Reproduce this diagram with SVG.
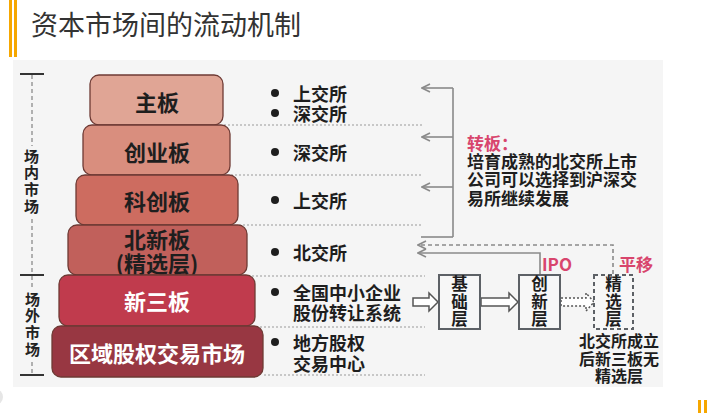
<svg xmlns="http://www.w3.org/2000/svg" width="720" height="413" viewBox="0 0 720 413">
<defs>
<style>
text{font-family:"Noto Sans CJK SC","Noto Sans",sans-serif;}
.title{font-size:27px;fill:#333;font-weight:400;}
.blk{stroke:#6e3a34;stroke-width:1.3;}
.bt{font-size:22px;font-weight:700;fill:#1e1e1e;text-anchor:middle;dominant-baseline:central;}
.bw{fill:#fff;}
.side{font-size:15px;font-weight:700;fill:#222;text-anchor:middle;writing-mode:vertical-rl;letter-spacing:1.7px;}
.bl{font-size:18px;font-weight:700;fill:#1e1e1e;dominant-baseline:central;}
.rt{font-size:17px;font-weight:700;fill:#1e1e1e;dominant-baseline:central;}
.pink{fill:#d8456d;}
.bx{font-size:16.5px;font-weight:700;fill:#1e1e1e;text-anchor:middle;writing-mode:vertical-rl;letter-spacing:1px;}
.note{font-size:16px;font-weight:700;fill:#1e1e1e;text-anchor:middle;dominant-baseline:central;}
.sep{stroke:#9a9a9a;stroke-width:1.2;stroke-dasharray:2 2;fill:none;}
.gl{stroke:#8a8a8a;stroke-width:1.6;fill:none;}
.box{fill:#f7f7f7;stroke:#5d6166;stroke-width:2;}
.hollow{fill:#fff;stroke:#555;stroke-width:1.5;}
</style>
<marker id="arr" viewBox="0 0 10 10" refX="9" refY="5" markerWidth="10" markerHeight="10" markerUnits="userSpaceOnUse" orient="auto">
<path d="M1,1 L9,5 L1,9" fill="none" stroke="#8a8a8a" stroke-width="1.6"/>
</marker>
</defs>

<rect x="0" y="0" width="720" height="413" fill="#ffffff"/>
<rect x="13" y="60" width="650" height="327" fill="#f5f5f5"/>
<circle cx="-5" cy="397" r="8" fill="#e6e6e6"/>
<rect x="9" y="0" width="3" height="57" fill="#f6a700"/>
<rect x="14" y="0" width="3" height="57" fill="#f6a700"/>
<rect x="698" y="400" width="3" height="13" fill="#f6a700"/>
<rect x="704" y="400" width="3" height="13" fill="#f6a700"/>
<text class="title" x="31" y="35">资本市场间的流动机制</text>

<g id="scale">
<line x1="20" y1="74" x2="44" y2="74" stroke="#333" stroke-width="2"/>
<line x1="20" y1="275" x2="44" y2="275" stroke="#333" stroke-width="2"/>
<line x1="20" y1="375" x2="44" y2="375" stroke="#333" stroke-width="2"/>
<line x1="32" y1="75" x2="32" y2="146" stroke="#999" stroke-width="1.5" stroke-dasharray="4 3"/>
<line x1="32" y1="219" x2="32" y2="274" stroke="#999" stroke-width="1.5" stroke-dasharray="4 3"/>
<line x1="32" y1="276" x2="32" y2="289" stroke="#999" stroke-width="1.5" stroke-dasharray="4 3"/>
<line x1="32" y1="362" x2="32" y2="374" stroke="#999" stroke-width="1.5" stroke-dasharray="4 3"/>
<text class="side" x="31.5" y="182">场内市场</text>
<text class="side" x="32.5" y="325">场外市场</text>
</g>

<g id="connectors">
<line class="sep" x1="224" y1="125" x2="422" y2="125"/>
<line class="sep" x1="231" y1="175" x2="422" y2="175"/>
<line class="sep" x1="239" y1="225" x2="422" y2="225"/>
<line class="sep" x1="248" y1="276" x2="425" y2="276"/>
<line class="sep" x1="256" y1="327" x2="425" y2="327"/>
<line class="sep" x1="264" y1="375" x2="425" y2="375"/>
<line class="gl" x1="453" y1="88" x2="453" y2="237"/>
<line class="gl" x1="453" y1="237" x2="421" y2="237"/>
<line class="gl" x1="453" y1="88" x2="422" y2="88" marker-end="url(#arr)"/>
<line class="gl" x1="453" y1="137" x2="422" y2="137" marker-end="url(#arr)"/>
<line class="gl" x1="453" y1="187" x2="422" y2="187" marker-end="url(#arr)"/>
<polyline class="gl" points="540,274 540,253 418,253" marker-end="url(#arr)"/>
<polyline class="gl" points="613,274 613,245 418,245" stroke-dasharray="4 3" marker-end="url(#arr)"/>
<polygon class="hollow" points="413,298 429,298 429,293 438,302 429,311 429,306 413,306"/>
<polygon class="hollow" points="481,298 509,298 509,293 518,302 509,311 509,306 481,306"/>
<polygon class="hollow" points="561,298 586,298 586,293 594,302 586,311 586,306 561,306" stroke="#777" stroke-dasharray="2 2"/>
</g>

<g id="node-zhuban">
<rect class="blk" x="90" y="75" width="133" height="50" rx="9" fill="#e0a595"/>
<text class="bt" x="157" y="101">主板</text>
</g>
<g id="node-chuangyeban">
<rect class="blk" x="83" y="125" width="147" height="50" rx="9" fill="#d98e7e"/>
<text class="bt" x="157" y="151">创业板</text>
</g>
<g id="node-kechuangban">
<rect class="blk" x="76" y="175" width="162" height="50" rx="9" fill="#cd6c60"/>
<text class="bt" x="157" y="200">科创板</text>
</g>
<g id="node-beixinban">
<rect class="blk" x="68" y="225" width="179" height="50" rx="9" fill="#c1605b"/>
<text class="bt"><tspan x="157" y="238">北新板</tspan><tspan x="157" y="262">(精选层)</tspan></text>
</g>
<g id="node-xinsanban">
<rect class="blk" x="59" y="275" width="196" height="51" rx="9" fill="#c03b4d"/>
<text class="bt bw" x="157" y="300">新三板</text>
</g>
<g id="node-quyu">
<rect class="blk" x="52" y="326" width="211" height="51" rx="9" fill="#983742"/>
<text class="bt bw" x="157" y="352">区域股权交易市场</text>
</g>

<g id="node-bullets">
<circle cx="275" cy="93" r="4" fill="#1e1e1e"/>
<circle cx="275" cy="113" r="4" fill="#1e1e1e"/>
<text class="bl"><tspan x="293" y="93">上交所</tspan><tspan x="293" y="113">深交所</tspan></text>
<circle cx="275" cy="152" r="4" fill="#1e1e1e"/>
<text class="bl" x="293" y="152">深交所</text>
<circle cx="275" cy="200" r="4" fill="#1e1e1e"/>
<text class="bl" x="293" y="200">上交所</text>
<circle cx="275" cy="252" r="4" fill="#1e1e1e"/>
<text class="bl" x="293" y="252">北交所</text>
<circle cx="275" cy="292" r="4" fill="#1e1e1e"/>
<text class="bl"><tspan x="293" y="292">全国中小企业</tspan><tspan x="293" y="312">股份转让系统</tspan></text>
<circle cx="275" cy="342" r="4" fill="#1e1e1e"/>
<text class="bl"><tspan x="293" y="342">地方股权</tspan><tspan x="293" y="363">交易中心</tspan></text>
</g>

<g id="node-zhuanban">
<text class="rt"><tspan class="pink" x="467" y="142">转板：</tspan><tspan x="467" y="160">培育成熟的北交所上市</tspan><tspan x="467" y="178">公司可以选择到沪深交</tspan><tspan x="467" y="197">易所继续发展</tspan></text>
</g>

<g id="node-jichuceng">
<rect class="box" x="439" y="275" width="41" height="54"/>
<text class="bx" x="459.5" y="302">基础层</text>
</g>
<g id="node-chuangxinceng">
<rect class="box" x="519" y="275" width="41" height="54"/>
<text class="bx" x="539.5" y="302">创新层</text>
</g>
<g id="node-jingxuanceng">
<rect class="box" x="594" y="275" width="39" height="54" stroke="#666" stroke-dasharray="4 3"/>
<text class="bx" x="613.5" y="302">精选层</text>
</g>
<g id="labels">
<text class="rt pink" x="542" y="263" font-size="16">IPO</text>
<text class="rt pink" x="619" y="263">平移</text>
<text class="note"><tspan x="619" y="340">北交所成立</tspan><tspan x="619" y="358">后新三板无</tspan><tspan x="619" y="375">精选层</tspan></text>
</g>
</svg>
